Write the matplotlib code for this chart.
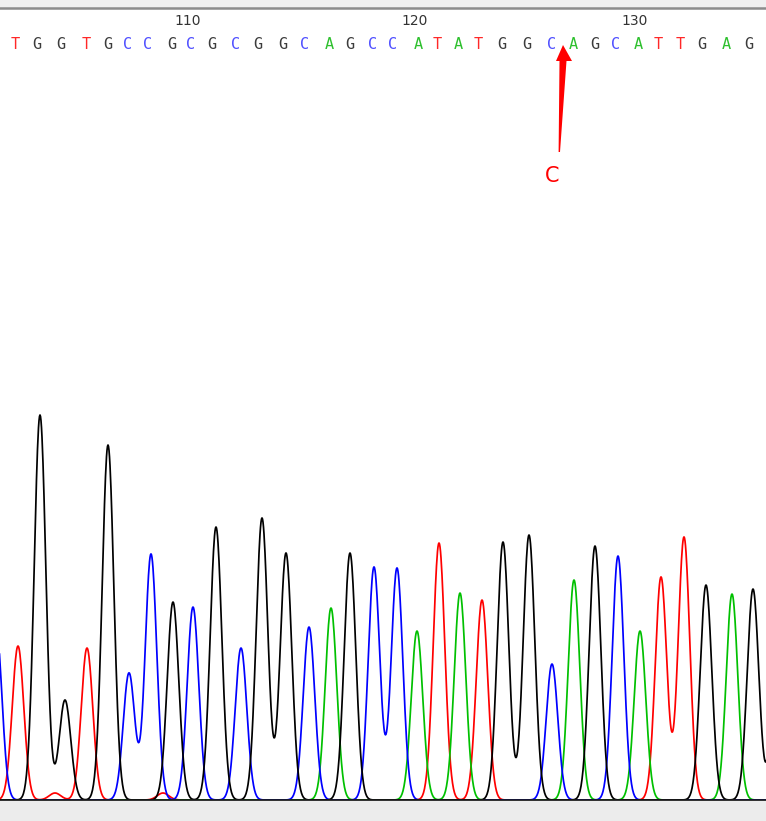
import numpy as np
import matplotlib
matplotlib.use('Agg')
import matplotlib.pyplot as plt

# Base calls shown along the top, and where each one sits (trace scan units).
bases = list('TGGTGCCGCGCGGCAGCCATATGGCAGCATTGAG')
base_pos = [15, 37, 61, 86, 108, 128, 148, 172, 191, 212, 236, 258, 283, 305,
            329, 350, 373, 393, 418, 437, 458, 478, 502, 527, 552, 573, 595,
            616, 638, 658, 680, 702, 726, 749]
first_base = 102
tick_labels = [110, 120, 130]

# Peaks of each dye channel: (position, height)
peaks_G = [(40, 385), (65, 100), (108, 355), (173, 198), (216, 273),
           (262, 282), (286, 247), (350, 247), (503, 258), (529, 265),
           (595, 254), (706, 215), (753, 211), (779, 260)]
peaks_C = [(-4, 175), (129, 127), (151, 246), (193, 193), (241, 152),
           (309, 173), (374, 233), (397, 232), (552, 136), (618, 244)]
peaks_T = [(18, 154), (55, 7), (87, 152), (163, 7), (439, 257), (482, 200),
           (661, 223), (684, 263)]
peaks_A = [(331, 192), (417, 169), (460, 207), (574, 220), (640, 169),
           (732, 206)]

mut_pos = 563       # arrow points at this base
mut_label = 'C'

trace_col = {'G': '#000000', 'C': '#0000ff', 'T': '#ff0000', 'A': '#00c000'}
letter_col = {'G': '#3c3c3c', 'C': '#5050ff', 'T': '#ff2828', 'A': '#2ec02e'}

fig = plt.figure(figsize=(7.66, 8.21), dpi=100)
ax = fig.add_axes([0, 0, 1, 1])
ax.set_xlim(0, 766)
ax.set_ylim(-21, 800)
ax.axis('off')

# Trace = sum of peaks, width fixed
x = np.arange(-20, 800, 0.5)
sig = 5.8

def trace(peaks):
    y = np.zeros_like(x)
    for p, h in peaks:
        y += h * np.exp(-(x - p) ** 2 / (2 * sig ** 2))
    return y

for ch, pk in [('T', peaks_T), ('A', peaks_A), ('C', peaks_C), ('G', peaks_G)]:
    ax.plot(x, trace(pk), color=trace_col[ch], lw=1.25, zorder=3)

# Frame bits: top bar, baseline, grey strip below
ax.axhspan(793, 800, color='#f0f0f0', zorder=1)
ax.axhline(792.5, color='#8c8c8c', lw=1.8, zorder=2)
ax.axhspan(-21, 0, color='#ececec', zorder=4)
ax.axhline(0, color='#101010', lw=1.2, zorder=5)

# Base letters and numbering
for b, p in zip(bases, base_pos):
    ax.text(p, 756, b, color=letter_col[b], fontsize=11, family='DejaVu Sans Mono',
            ha='center', va='center', zorder=6)
for t in tick_labels:
    p = base_pos[t - first_base]
    ax.text(p - 3, 779, str(t), color='#333333', fontsize=10, ha='center',
            va='center', zorder=6)

# Red arrow marking the mutation
tip_y, head_y, tail_y = 755, 739, 648
shaft = [(558.6, tail_y), (560.0, tail_y), (mut_pos + 3.5, head_y),
         (mut_pos - 3.5, head_y)]
head = [(556, head_y), (572, head_y), (mut_pos, tip_y)]
ax.fill(*zip(*shaft), color='#ff0000', lw=0, zorder=7)
ax.fill(*zip(*head), color='#ff0000', lw=0, zorder=7)
ax.text(552, 624, mut_label, color='#ff0000', fontsize=15, ha='center',
        va='center', zorder=7)

fig.savefig('out.png', dpi=100)
